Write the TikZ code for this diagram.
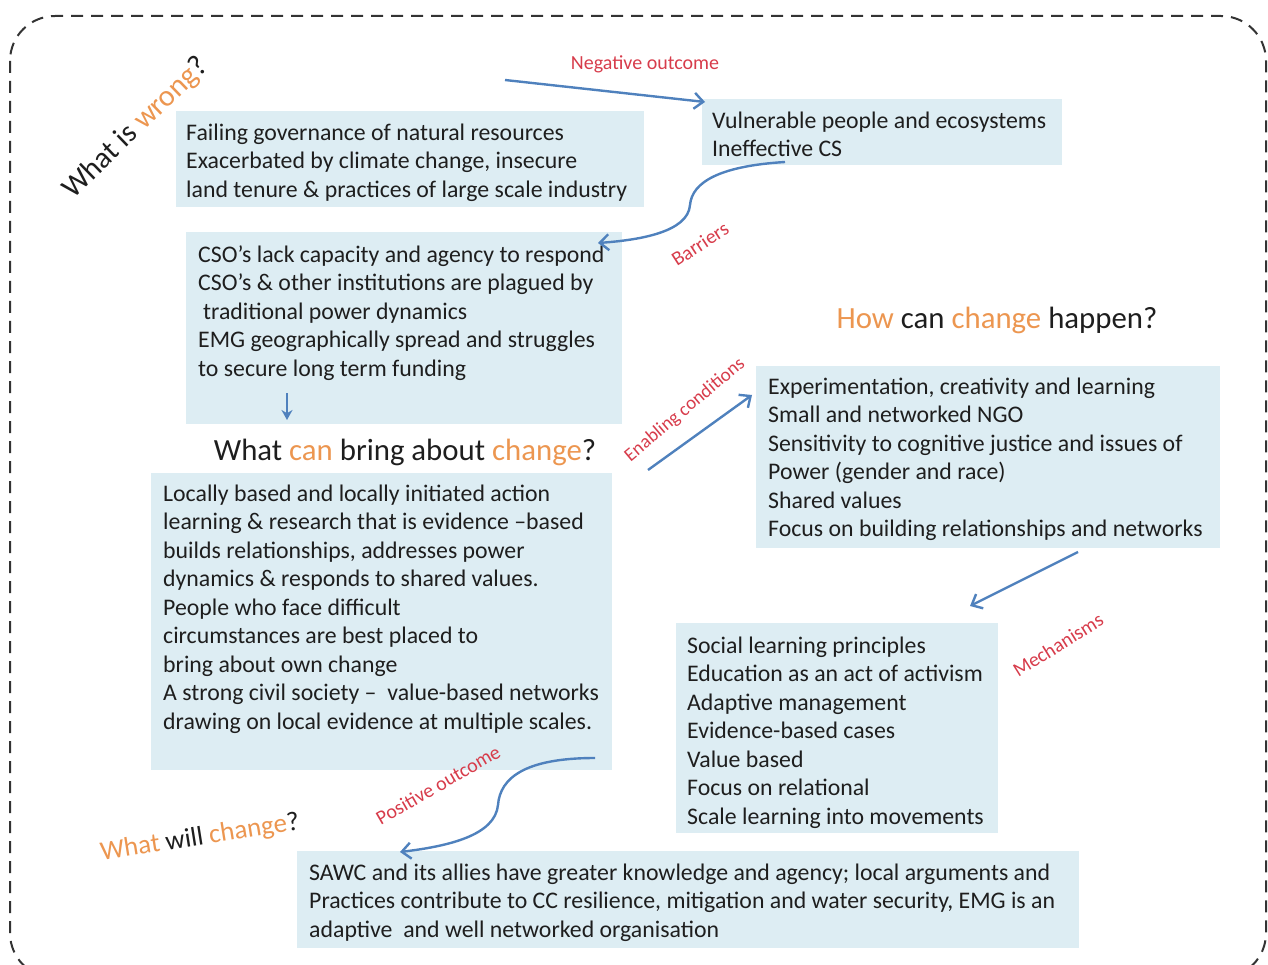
\documentclass[tikz,border=0pt]{standalone}
\usepackage{fontspec}
\setmainfont{Carlito}
\usetikzlibrary{arrows.meta,calc}
\definecolor{boxfill}{RGB}{221,237,243}
\definecolor{arrblue}{RGB}{79,129,189}
\definecolor{qorange}{RGB}{236,150,80}
\definecolor{lblred}{RGB}{215,60,75}
\definecolor{txtdark}{RGB}{30,30,30}
\begin{document}
\begin{tikzpicture}[x=1pt,y=1pt,
  bx/.style={fill=boxfill,draw=none,anchor=north west,inner sep=0pt},
  txt/.style={anchor=north west,inner sep=0pt,align=left,text=txtdark,
    font=\fontsize{23.8}{28.5}\selectfont},
  title/.style={inner sep=0pt,text=txtdark,font=\fontsize{30.8}{34}\selectfont},
  lbl/.style={inner sep=0pt,text=lblred,font=\fontsize{20}{22}\selectfont},
  conn/.style={draw=arrblue,line width=2.4pt,-{Straight Barb[length=9pt,width=16pt,line width=2.4pt]}},
  ]
\useasboundingbox (0,0) rectangle (1268,-965);
\draw[line width=2pt,draw=black!80,dash pattern=on 12pt off 8pt,rounded corners=45pt]
  (10,-16) rectangle (1266,-978);

% boxes
\node[bx,minimum width=468pt,minimum height=96pt] (b1) at (176,-111) {};
\node[bx,minimum width=360pt,minimum height=66pt] (b2) at (702,-99) {};
\node[bx,minimum width=436pt,minimum height=192pt] (b3) at (186,-232) {};
\node[bx,minimum width=461pt,minimum height=297pt] (b4) at (151,-473) {};
\node[bx,minimum width=464pt,minimum height=182pt] (b5) at (756,-366) {};
\node[bx,minimum width=322pt,minimum height=210pt] (b6) at (676,-623) {};
\node[bx,minimum width=782pt,minimum height=97pt] (b7) at (297,-851) {};

% texts (top = first baseline - 20)
\node[txt] (t1) at (186,-120) {\strut Failing governance of natural resources\\Exacerbated by climate change, insecure\\land tenure \& practices of large scale industry};
\node[txt] (t2) at (712,-108) {\strut Vulnerable people and ecosystems\\Ineffective CS};
\node[txt] (t3) at (198,-242) {\strut CSO’s lack capacity and agency to respond\\CSO’s \& other institutions are plagued by\\\hspace{5pt}traditional power dynamics\\EMG geographically spread and struggles\\to secure long term funding};
\node[txt] (t4) at (163,-481) {\strut Locally based and locally initiated action\\learning \& research that is evidence –based\\builds relationships, addresses power\\dynamics \& responds to shared values.\\People who face difficult\\circumstances are best placed to\\bring about own change\\A strong civil society –\ \ value-based networks\\drawing on local evidence at multiple scales.};
\node[txt] (t5) at (768,-374) {\strut Experimentation, creativity and learning\\Small and networked NGO\\Sensitivity to cognitive justice and issues of\\Power (gender and race)\\Shared values\\Focus on building relationships and networks};
\node[txt] (t6) at (687,-633) {\strut Social learning principles\\Education as an act of activism\\Adaptive management\\Evidence-based cases\\Value based\\Focus on relational\\Scale learning into movements};
\node[txt] (t7) at (309,-860) {\strut SAWC and its allies have greater knowledge and agency; local arguments and\\Practices contribute to CC resilience, mitigation and water security, EMG is an\\adaptive\ \ and well networked organisation};

% titles
\node[title,anchor=base] (q2) at (405,-460) {What \textcolor{qorange}{can} bring about \textcolor{qorange}{change}?};
\node[title,anchor=base] (q3) at (997,-328) {\textcolor{qorange}{How} can \textcolor{qorange}{change} happen?};
\node[title,rotate=44,font=\fontsize{30}{32}\selectfont] (q1) at (136,-128) {What is \textcolor{qorange}{wrong}?};
\node[title,rotate=9,font=\fontsize{27}{30}\selectfont] (q4) at (200,-838) {\textcolor{qorange}{What} will \textcolor{qorange}{change}?};

% labels
\node[lbl] (l1) at (645,-64) {Negative outcome};
\node[lbl,rotate=33] (l2) at (700,-244) {Barriers};
\node[lbl,rotate=40,font=\fontsize{19}{21}\selectfont] (l3) at (685,-410) {Enabling conditions};
\node[lbl,rotate=32] (l4) at (1058,-645) {Mechanisms};
\node[lbl,rotate=30] (l5) at (438,-785) {Positive outcome};

% connector end points
\coordinate (n1s) at (505,-80);
\coordinate (n1e) at (705,-102);
\coordinate (brs) at (785,-162);
\coordinate (bre) at (598,-243);
\coordinate (dns) at (287,-393);
\coordinate (dne) at (287,-420);
\coordinate (ens) at (648,-470);
\coordinate (ene) at (752,-395);
\coordinate (mes) at (1078,-552);
\coordinate (mee) at (970,-606);
\coordinate (pos) at (595,-758);
\coordinate (poe) at (400,-852);

% connectors
\draw[conn] (n1s) -- (n1e);
\draw[conn] (brs) .. controls (720,-166) and (692,-182) .. (690,-205)
  .. controls (688,-232) and (640,-240) .. (bre);
\draw[draw=arrblue,line width=2.4pt,-{Stealth[length=10pt,width=11pt]}] (dns) -- (dne);
\draw[conn] (ens) -- (ene);
\draw[conn] (mes) -- (mee);
\draw[conn] (pos) .. controls (525,-758) and (500,-778) .. (498,-805)
  .. controls (495,-835) and (450,-846) .. (poe);
\end{tikzpicture}
\end{document}
